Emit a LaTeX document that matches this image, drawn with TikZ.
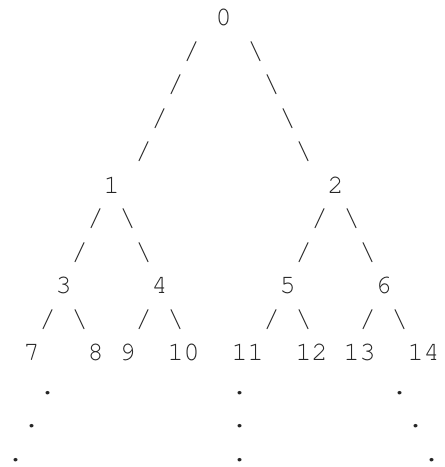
\documentclass[tikz,border=0pt]{standalone}
\usepackage[T1]{fontenc}
\usepackage{courier}
\begin{document}
\begin{tikzpicture}[x=16pt, y=-33.5pt,
  every node/.style={font=\ttfamily\fontsize{26.7}{30}\selectfont, inner sep=0pt, anchor=base},
  key/.style={text=black!85},
  edge/.style={text=black!85},
  more/.style={text=black!85}
]
  \useasboundingbox (-0.98,-0.77) rectangle (26.83,13.17);
  % keys, one text column = one unit
  \node[key] (n0) at (13,0) {0};
  \node[key] (n1) at (6,5) {1};
  \node[key] (n2) at (20,5) {2};
  \node[key] (n3) at (3,8) {3};
  \node[key] (n4) at (9,8) {4};
  \node[key] (n5) at (17,8) {5};
  \node[key] (n6) at (23,8) {6};
  \node[key] (n7) at (1,10) {7};
  \node[key] (n8) at (5,10) {8};
  \node[key] (n9) at (7,10) {9};
  \node[key] (n10) at (10.5,10) {10};
  \node[key] (n11) at (14.5,10) {11};
  \node[key] (n12) at (18.5,10) {12};
  \node[key] (n13) at (21.5,10) {13};
  \node[key] (n14) at (25.5,10) {14};

  % branches
  \foreach \c/\r in {11/1, 10/2, 9/3, 8/4, 5/6, 4/7, 19/6, 18/7, 2/9, 8/9, 16/9, 22/9}
    \node[edge] (l\c-\r) at (\c,\r) {/};
  \foreach \c/\r in {15/1, 16/2, 17/3, 18/4, 7/6, 8/7, 21/6, 22/7, 4/9, 10/9, 18/9, 24/9}
    \node[edge] (r\c-\r) at (\c,\r) {\char`\\};

  % and so on
  \foreach \c/\r in {2/11, 1/12, 0/13, 14/11, 14/12, 14/13, 24/11, 25/12, 26/13}
    \node[more] (d\c-\r) at (\c,\r) {.};
\end{tikzpicture}
\end{document}
